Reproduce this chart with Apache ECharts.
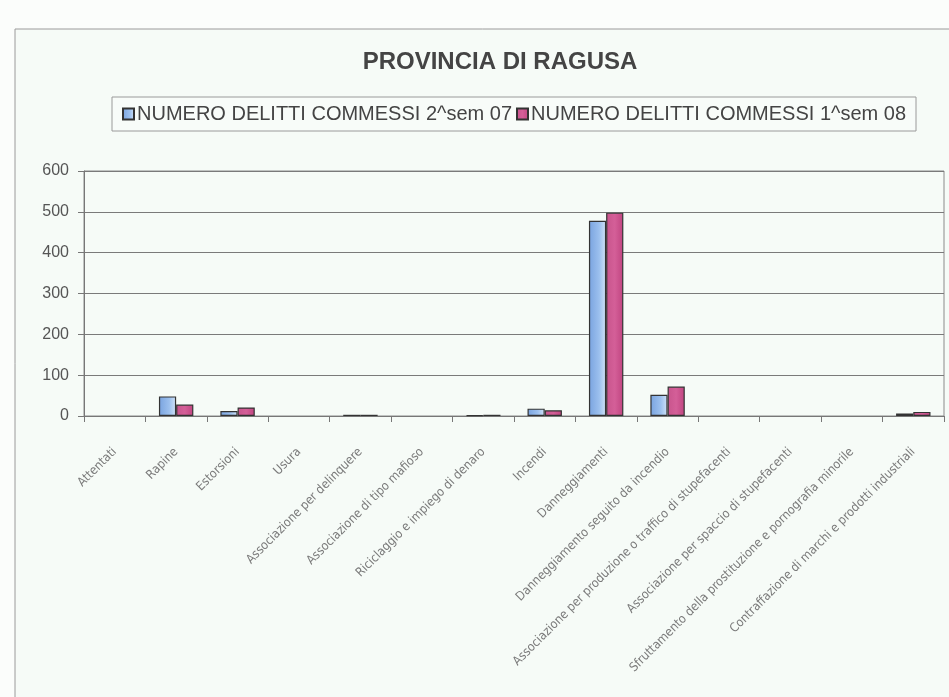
<!DOCTYPE html>
<html>
<head>
<meta charset="utf-8">
<script src="https://cdn.jsdelivr.net/npm/echarts@6/dist/echarts.min.js"></script>
<style>
  html, body { margin: 0; padding: 0; background: #fbfdfb; }
  #main { width: 949px; height: 697px; }
</style>
</head>
<body>
<div id="main"></div>
<script>
// categorie (asse x)
var categorie = [
    'Attentati', 'Rapine', 'Estorsioni', 'Usura',
    'Associazione per delinquere', 'Associazione di tipo mafioso',
    'Riciclaggio e impiego di denaro', 'Incendi', 'Danneggiamenti',
    'Danneggiamento seguito da incendio',
    'Associazione per produzione o traffico di stupefacenti',
    'Associazione per spaccio di stupefacenti',
    'Sfruttamento della prostituzione e pornografia minorile',
    'Contraffazione di marchi e prodotti industriali'
];
// valori
var sem2_07 = [0, 48, 12, 0, 3, 0, 2, 18, 478, 52, 0, 0, 0, 6];
var sem1_08 = [0, 28, 21, 0, 3, 0, 3, 14, 498, 72, 0, 0, 0, 10];
var nome1 = 'NUMERO DELITTI COMMESSI 2^sem 07';
var nome2 = 'NUMERO DELITTI COMMESSI 1^sem 08';
var titolo = 'PROVINCIA DI RAGUSA';

// i valori zero non disegnano nessuna barra (come nell'originale)
function senzaZeri(arr) {
    return arr.map(function (v) { return v === 0 ? '-' : v; });
}

var myChart = echarts.init(document.getElementById('main'));

var option = {
    backgroundColor: '#fbfdfb',
    animation: false,
    graphic: [{     // cornice esterna del grafico
        type: 'rect',
        shape: { x: 15, y: 29, width: 960, height: 700 },
        style: { fill: '#f6fbf7', stroke: '#9a9a9a', lineWidth: 1 },
        z: -10
    }],
    title: {
        text: titolo,
        left: 495,
        top: 45,
        textAlign: 'center',
        textStyle: {
            fontFamily: 'Liberation Sans, Arial, sans-serif',
            fontSize: 24,
            fontWeight: 'bold',
            color: '#444'
        }
    },
    legend: {
        data: [nome1, nome2],
        left: 112,
        top: 97,
        padding: [7, 10, 7, 10],
        borderColor: '#9a9a9a',
        borderWidth: 1,
        backgroundColor: '#f8fcf9',
        itemGap: 4,
        itemWidth: 11,
        itemHeight: 11,
        icon: 'rect',
        textStyle: {
            fontFamily: 'Liberation Sans, Arial, sans-serif',
            fontSize: 20,
            color: '#444',
            padding: [0, 0, 0, -2]
        }
    },
    grid: {
        show: true,
        left: 84,
        right: 5,
        top: 171,
        bottom: 281,
        borderColor: '#8a8a8a',
        borderWidth: 1,
        backgroundColor: 'transparent'
    },
    xAxis: {
        type: 'category',
        data: categorie,
        axisLine: { lineStyle: { color: '#777' } },
        axisTick: { show: true, length: 6, lineStyle: { color: '#777' } },
        axisLabel: {
            rotate: 45,
            interval: 0,
            margin: 34,
            fontFamily: '"Liberation Sans Narrow", "DejaVu Sans Condensed", sans-serif',
            fontSize: 12.5,
            color: '#7a7a7a'
        }
    },
    yAxis: {
        type: 'value',
        min: 0,
        max: 600,
        interval: 100,
        axisLine: { show: true, lineStyle: { color: '#777' } },
        axisTick: { show: true, length: 6, lineStyle: { color: '#777' } },
        axisLabel: {
            margin: 15,
            fontFamily: 'Liberation Sans, Arial, sans-serif',
            fontSize: 16,
            color: '#555'
        },
        splitLine: { lineStyle: { color: '#7a7a7a', width: 1 } }
    },
    series: [{
        name: nome1,
        type: 'bar',
        data: senzaZeri(sem2_07),
        barGap: '0%',
        barCategoryGap: '44%',
        itemStyle: {
            color: new echarts.graphic.LinearGradient(0, 0, 1, 0, [
                { offset: 0, color: '#79a3df' },
                { offset: 0.6, color: '#9cc0ee' },
                { offset: 1, color: '#d2e3f7' }
            ]),
            borderColor: '#333',
            borderWidth: 1.2
        }
    }, {
        name: nome2,
        type: 'bar',
        data: senzaZeri(sem1_08),
        itemStyle: {
            color: new echarts.graphic.LinearGradient(0, 0, 1, 0, [
                { offset: 0, color: '#c8548c' },
                { offset: 0.5, color: '#d45f98' },
                { offset: 1, color: '#c04480' }
            ]),
            borderColor: '#333',
            borderWidth: 1.2
        }
    }]
};

myChart.setOption(option);
</script>
</body>
</html>
